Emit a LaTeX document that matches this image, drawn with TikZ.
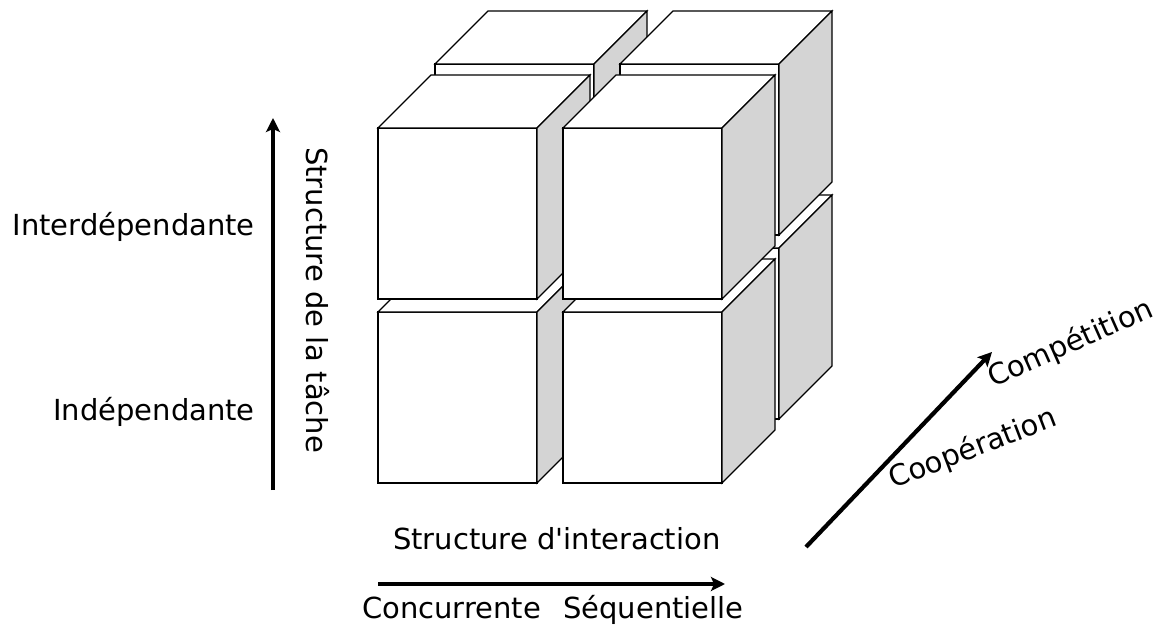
\documentclass[tikz,border=0pt]{standalone}
\usepackage{fontspec}
\setmainfont{DejaVu Sans}
\usetikzlibrary{arrows.meta}
\begin{document}
\begin{tikzpicture}[x=1bp,y=-1bp,
face/.style={draw,line width=1.2bp,fill=white},
cote/.style={draw,line width=1.2bp,fill=black!17},
axe/.style={line width=4.2bp,-{Stealth[length=14bp,width=14bp,inset=3bp]}},
lab/.style={font=\fontsize{29bp}{35bp}\selectfont,inner sep=0pt}]
\useasboundingbox (0,0) rectangle (1163,637);
\pgfmathsetmacro{\cw}{159}
\pgfmathsetmacro{\ch}{171}
\pgfmathsetmacro{\cp}{53}
%cubes, back layer first
\foreach \x/\y in {435/248,620/248,435/64,620/64,378/312,563/312,378/128,563/128}{
\draw[face] (\x,\y) rectangle ++(\cw,\ch);
\draw[face] (\x,\y)--++(\cp,-\cp)--++(\cw,0)--++(-\cp,\cp)--cycle;
\draw[cote] (\x+\cw,\y)--++(\cp,-\cp)--++(0,\ch)--++(-\cp,\cp)--cycle;
}
%axes
\coordinate (tb) at (273,490);
\coordinate (th) at (273,118);
\draw[axe] (tb)--(th);
\coordinate (ig) at (378,584);
\coordinate (id) at (725,584);
\draw[axe] (ig)--(id);
\coordinate (cb) at (806,547);
\coordinate (ch) at (992,352);
\draw[axe] (cb)--(ch);
%text
\node[lab,anchor=base east] (inter) at (255,236) {Interdépendante};
\node[lab,anchor=base east] (indep) at (255,420) {Indépendante};
\node[lab,rotate=-90] (tache) at (318,300) {Structure de la tâche};
\node[lab,anchor=base west] (interac) at (393,549) {Structure d\textquotesingle interaction};
\node[lab,anchor=base west] (conc) at (362,618) {Concurrente};
\node[lab,anchor=base west] (sequ) at (563,618) {Séquentielle};
\node[lab,anchor=base west,rotate=24] (comp) at (993,388) {Compétition};
\node[lab,anchor=base west,rotate=21] (coop) at (893,489) {Coopération};
\end{tikzpicture}
\end{document}
